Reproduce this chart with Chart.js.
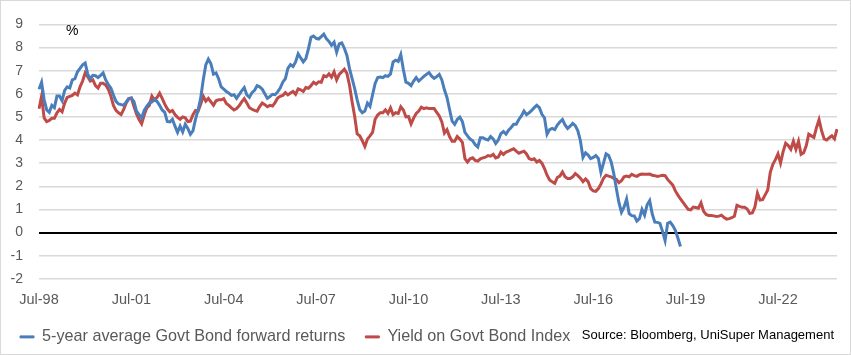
<!DOCTYPE html>
<html><head><meta charset="utf-8">
<script src="https://cdn.jsdelivr.net/npm/chart.js@4.4.1/dist/chart.umd.min.js"></script>
<style>
html,body{margin:0;padding:0;background:#fff;}
#wrap{position:relative;width:851px;height:355px;}
#pct{position:absolute;left:66px;top:22px;font:14px "Liberation Sans",Arial,sans-serif;color:#000;}
#src{position:absolute;right:17px;top:327px;font:13px "Liberation Sans",Arial,sans-serif;color:#000;white-space:nowrap;}
</style></head>
<body>
<div id="wrap">
<canvas id="c" width="851" height="355"></canvas>
<div id="pct">%</div>
<div id="src">Source: Bloomberg, UniSuper Management</div>
</div>
<script>
// Monthly data from Jul-98
const startYear = 1998, startMonth = 6;
const tickLabels = ['Jul-98','Jul-01','Jul-04','Jul-07','Jul-10','Jul-13','Jul-16','Jul-19','Jul-22'];
const seriesNames = ['5-year average Govt Bond forward returns','Yield on Govt Bond Index'];

const forwardReturns = [
6.2,6.5,5.75,5.3,5.2,5.5,5.4,5.9,5.9,5.7,6.15,6.3,
6.25,6.6,6.65,6.95,7.1,7.25,7.33,6.85,6.65,6.8,6.78,6.7,
6.8,6.9,6.6,6.4,6.25,5.95,5.67,5.56,5.53,5.5,5.65,5.8,
5.8,5.67,5.25,5.1,4.95,5.28,5.46,5.6,5.65,5.75,5.67,5.5,
5.3,5.2,4.8,4.78,4.9,4.6,4.33,4.6,4.35,4.68,4.5,4.25,
4.4,4.9,5.3,5.8,6.6,7.25,7.5,7.3,6.85,6.9,6.65,6.3,
6.2,6.1,6.03,5.93,5.96,5.8,5.96,6.13,6.27,5.95,5.85,6.05,
6.15,6.35,6.3,6.2,6.0,5.8,5.88,5.98,5.96,6.08,6.25,6.5,
6.65,7.1,7.26,7.18,7.38,7.73,7.55,7.38,7.52,7.94,8.44,8.5,
8.4,8.37,8.47,8.58,8.38,8.26,8.1,8.23,7.8,8.16,8.2,7.97,
7.66,7.1,6.67,6.24,5.74,5.32,5.18,5.25,5.6,5.46,5.96,6.45,
6.7,6.72,6.7,6.78,6.75,6.86,7.38,7.45,7.4,7.7,7.05,6.5,
6.45,6.35,6.55,6.7,6.55,6.65,6.75,6.84,6.92,6.76,6.67,6.74,
6.84,6.6,6.17,5.84,5.32,4.82,4.68,4.89,4.99,4.8,4.33,4.18,
4.04,3.97,3.8,3.7,4.1,4.1,4.04,4.0,4.15,4.05,3.85,4.0,
4.28,4.37,4.26,4.43,4.54,4.68,4.68,4.89,5.04,5.25,5.1,5.18,
5.28,5.4,5.5,5.4,5.11,4.96,4.25,4.45,4.5,4.45,4.65,4.78,
4.89,4.65,4.5,4.6,4.72,4.62,4.4,3.97,3.25,3.45,3.35,3.2,
3.25,3.33,3.2,2.6,3.0,3.4,3.33,3.05,2.55,1.9,1.3,0.88,
1.1,1.45,0.82,0.73,0.72,0.5,0.6,1.0,0.75,1.2,1.38,0.8,
0.45,0.44,0.4,0.05,-0.35,0.4,0.45,0.3,0.1,-0.25,-0.6
];

const bondYield = [
5.35,5.89,4.96,4.8,4.85,4.94,4.94,5.18,5.32,5.22,5.6,5.84,
5.89,5.93,6.03,5.95,6.3,6.55,6.9,6.74,6.55,6.6,6.35,6.25,
6.45,6.45,6.38,6.2,5.9,5.5,5.28,5.18,5.1,5.32,5.6,5.79,
5.82,5.46,5.13,4.89,4.7,5.08,5.39,5.5,5.9,5.74,5.84,6.03,
5.8,5.55,5.35,5.22,5.28,5.1,4.98,4.9,5.0,4.96,4.8,4.82,
5.1,5.28,5.25,5.55,5.9,5.68,5.8,5.65,5.5,5.7,5.74,5.74,
5.79,5.58,5.5,5.39,5.3,5.36,5.48,5.65,5.79,5.6,5.4,5.33,
5.28,5.25,5.45,5.6,5.53,5.44,5.5,5.47,5.62,5.82,5.89,5.93,
6.05,5.95,6.03,6.1,5.98,6.21,6.17,6.1,6.27,6.24,6.35,6.5,
6.42,6.52,6.5,6.78,6.74,6.86,6.72,6.95,6.6,6.84,6.95,7.06,
6.88,6.38,5.67,5.04,4.26,4.18,3.97,3.72,4.04,4.18,4.33,4.9,
5.08,5.18,5.18,5.3,5.15,5.39,5.1,5.18,5.15,5.44,5.3,5.0,
5.02,4.7,4.95,5.15,5.25,5.42,5.36,5.39,5.36,5.36,5.36,5.2,
5.04,4.78,4.3,4.45,4.15,3.95,3.95,4.15,4.04,3.9,3.2,3.05,
3.19,3.23,3.12,3.09,3.19,3.23,3.26,3.33,3.3,3.38,3.23,3.27,
3.48,3.38,3.48,3.52,3.57,3.62,3.52,3.43,3.48,3.52,3.4,3.2,
3.15,3.19,3.05,3.12,3.0,2.77,2.48,2.27,2.2,2.13,2.38,2.44,
2.62,2.41,2.34,2.34,2.41,2.55,2.46,2.35,2.2,2.32,2.2,1.9,
1.8,1.78,1.9,2.1,2.35,2.48,2.44,2.41,2.34,2.3,2.16,2.24,
2.41,2.44,2.41,2.52,2.46,2.43,2.5,2.53,2.52,2.52,2.53,2.48,
2.46,2.43,2.45,2.48,2.46,2.3,2.17,2.05,1.8,1.62,1.45,1.3,
1.15,1.0,0.98,1.1,1.08,1.05,1.28,0.92,0.78,0.74,0.74,0.72,
0.69,0.71,0.75,0.65,0.58,0.6,0.64,0.7,1.18,1.13,1.09,1.09,
1.02,0.83,0.85,1.1,1.7,1.4,1.42,1.63,1.84,2.6,2.95,3.15,
3.4,3.0,3.5,3.86,3.76,3.6,3.95,3.6,3.95,3.38,3.45,3.75,
4.25,4.18,4.11,4.54,4.88,4.4,4.05,4.0,4.1,4.18,4.05,4.47
];

const MON = ['Jan','Feb','Mar','Apr','May','Jun','Jul','Aug','Sep','Oct','Nov','Dec'];
const months = bondYield.map((_, i) => {
  const t = startMonth + i;
  const y = startYear + Math.floor(t / 12);
  return MON[t % 12] + '-' + String(y % 100).padStart(2, '0');
});

const BLUE = '#4a7ebb', RED = '#be4b48', AXIS = '#595959';
const FONT = '"Liberation Sans", Arial, sans-serif';

const frame = {
  id: 'frame',
  beforeDraw(chart) {
    const c = chart.ctx;
    c.save();
    c.fillStyle = '#fff';
    c.fillRect(0, 0, chart.width, chart.height);
    c.strokeStyle = '#d9d9d9';
    c.lineWidth = 1;
    c.strokeRect(0.5, 0.5, chart.width - 1, chart.height - 1);
    c.restore();
  }
};

new Chart(document.getElementById('c'), {
  type: 'line',
  data: {
    labels: months,
    datasets: [
      { label: seriesNames[0], data: forwardReturns, borderColor: BLUE, backgroundColor: BLUE,
        borderWidth: 3, pointRadius: 0, tension: 0, fill: false },
      { label: seriesNames[1], data: bondYield, borderColor: RED, backgroundColor: RED,
        borderWidth: 3, pointRadius: 0, tension: 0, fill: false }
    ]
  },
  options: {
    responsive: false,
    animation: false,
    devicePixelRatio: 1,
    layout: { padding: { left: 0, right: 14, top: 17, bottom: 0 } },
    plugins: {
      tooltip: { enabled: false },
      legend: {
        position: 'bottom',
        align: 'start',
        labels: {
          boxWidth: 14, boxHeight: 2, padding: 20,
          color: AXIS, font: { family: FONT, size: 16.2 },
          generateLabels(chart) {
            return chart.data.datasets.map((d, i) => ({
              text: d.label, fillStyle: d.borderColor, strokeStyle: d.borderColor,
              lineWidth: 1, hidden: false, datasetIndex: i, fontColor: AXIS
            }));
          }
        }
      }
    },
    scales: {
      x: {
        type: 'category',
        grid: { display: false, drawTicks: false },
        border: { display: false },
        ticks: {
          autoSkip: false, maxRotation: 0, minRotation: 0, padding: 12,
          color: AXIS, font: { family: FONT, size: 14.5 },
          callback(v, i) {
            const l = this.getLabelForValue(v);
            return tickLabels.includes(l) ? l : null;
          }
        },
        afterFit(s) { s.height = 30; }
      },
      y: {
        min: -2, max: 9,
        border: { display: false },
        grid: {
          drawTicks: false,
          color: c => c.tick.value === 0 ? '#000' : '#d9d9d9',
          lineWidth: c => c.tick.value === 0 ? 2 : 1.5
        },
        ticks: { stepSize: 1, padding: 16, color: AXIS, font: { family: FONT, size: 14 } },
        afterFit(s) { s.width = 39; }
      }
    }
  },
  plugins: [frame]
});
</script>
</body></html>
